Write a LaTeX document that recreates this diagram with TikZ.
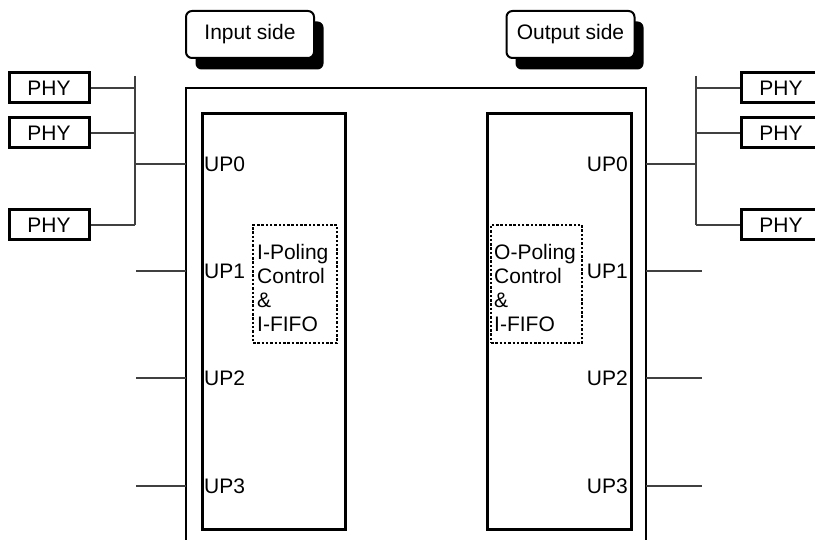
\documentclass[tikz,border=0pt]{standalone}
\usepackage{fontspec}
\setmainfont{Liberation Sans}
\begin{document}
\begin{tikzpicture}[x=1pt,y=-1pt,
  font=\fontsize{21}{24}\selectfont,
  phy/.style={draw, line width=3pt, minimum width=80pt, minimum height=30pt, inner sep=0pt},
  conn/.style={draw=black!75, line width=1.2pt},
  chip/.style={draw, line width=3pt},
  ctrl/.style={draw, line width=2.5pt, dash pattern=on 2.5pt off 1.8pt},
  hdr/.style={draw, line width=2pt, fill=white, rounded corners=6pt, minimum width=128pt, minimum height=47pt, inner sep=0pt},
  shad/.style={fill=black, rounded corners=6pt, minimum width=128pt, minimum height=48pt, inner sep=0pt},
  lbl/.style={inner sep=0pt}
]
\useasboundingbox (0,0) rectangle (815,540);

% header boxes with shadows
\node[shad] (ishad) at (259.5,45.5) {};
\node[hdr] (ihdr) at (250,34.5) {Input side};
\node[shad] (oshad) at (579.5,45.5) {};
\node[hdr] (ohdr) at (570.5,34.5) {Output side};

% outer frame (open at bottom)
\coordinate (obl) at (186,541);
\coordinate (otl) at (186,88);
\coordinate (otr) at (646,88);
\coordinate (obr) at (646,541);
\draw[line width=1.2pt] (obl) -- (otl) -- (otr) -- (obr);

% chips
\node[chip, minimum width=143pt, minimum height=415pt, inner sep=0pt] (chipL) at (273.5,321.5) {};
\node[chip, minimum width=144pt, minimum height=415pt, inner sep=0pt] (chipR) at (559,321.5) {};

% control boxes
\node[ctrl, minimum width=84pt, minimum height=118pt, inner sep=0pt] (ctlL) at (295,284) {};
\node[ctrl, minimum width=91pt, minimum height=118pt, inner sep=0pt] (ctlR) at (536.5,284) {};
\node[lbl, anchor=west, align=left] (tL) at (257,288) {I-Poling\\Control\\\&\\I-FIFO};
\node[lbl, anchor=west, align=left] (tR) at (494,288) {O-Poling\\Control\\\&\\I-FIFO};

% port labels
\node[lbl, anchor=west] (upL0) at (204,164) {UP0};
\node[lbl, anchor=west] (upL1) at (204,271) {UP1};
\node[lbl, anchor=west] (upL2) at (204,378) {UP2};
\node[lbl, anchor=west] (upL3) at (204,486) {UP3};
\node[lbl, anchor=east] (upR0) at (628,164) {UP0};
\node[lbl, anchor=east] (upR1) at (628,271) {UP1};
\node[lbl, anchor=east] (upR2) at (628,378) {UP2};
\node[lbl, anchor=east] (upR3) at (628,486) {UP3};

% PHY boxes
\node[phy] (pl1) at (49,88) {PHY};
\node[phy] (pl2) at (49,133) {PHY};
\node[phy] (pl3) at (49,225) {PHY};
\node[phy] (pr1) at (781,88) {PHY};
\node[phy] (pr2) at (781,133) {PHY};
\node[phy] (pr3) at (781,225) {PHY};

% left bus
\coordinate (blt) at (135,76);
\coordinate (bl1) at (135,88);
\coordinate (bl2) at (135,133);
\coordinate (bl0) at (135,164);
\coordinate (bl3) at (135,225);
\coordinate (fl0) at (186,164);
\draw[conn] (blt) -- (bl3);
\draw[conn] (pl1) -- (bl1);
\draw[conn] (pl2) -- (bl2);
\draw[conn] (pl3) -- (bl3);
\draw[conn] (bl0) -- (fl0);

% right bus
\coordinate (brt) at (696,76);
\coordinate (br1) at (696,88);
\coordinate (br2) at (696,133);
\coordinate (br0) at (696,164);
\coordinate (br3) at (696,225);
\coordinate (fr0) at (646,164);
\draw[conn] (brt) -- (br3);
\draw[conn] (pr1) -- (br1);
\draw[conn] (pr2) -- (br2);
\draw[conn] (pr3) -- (br3);
\draw[conn] (fr0) -- (br0);

% other port lines
\coordinate (sl1) at (136,271); \coordinate (fl1) at (186,271);
\coordinate (sl2) at (136,378); \coordinate (fl2) at (186,378);
\coordinate (sl3) at (136,486); \coordinate (fl3) at (186,486);
\coordinate (sr1) at (702,271); \coordinate (fr1) at (646,271);
\coordinate (sr2) at (702,378); \coordinate (fr2) at (646,378);
\coordinate (sr3) at (702,486); \coordinate (fr3) at (646,486);
\draw[conn] (sl1) -- (fl1);
\draw[conn] (sl2) -- (fl2);
\draw[conn] (sl3) -- (fl3);
\draw[conn] (fr1) -- (sr1);
\draw[conn] (fr2) -- (sr2);
\draw[conn] (fr3) -- (sr3);
\end{tikzpicture}
\end{document}
